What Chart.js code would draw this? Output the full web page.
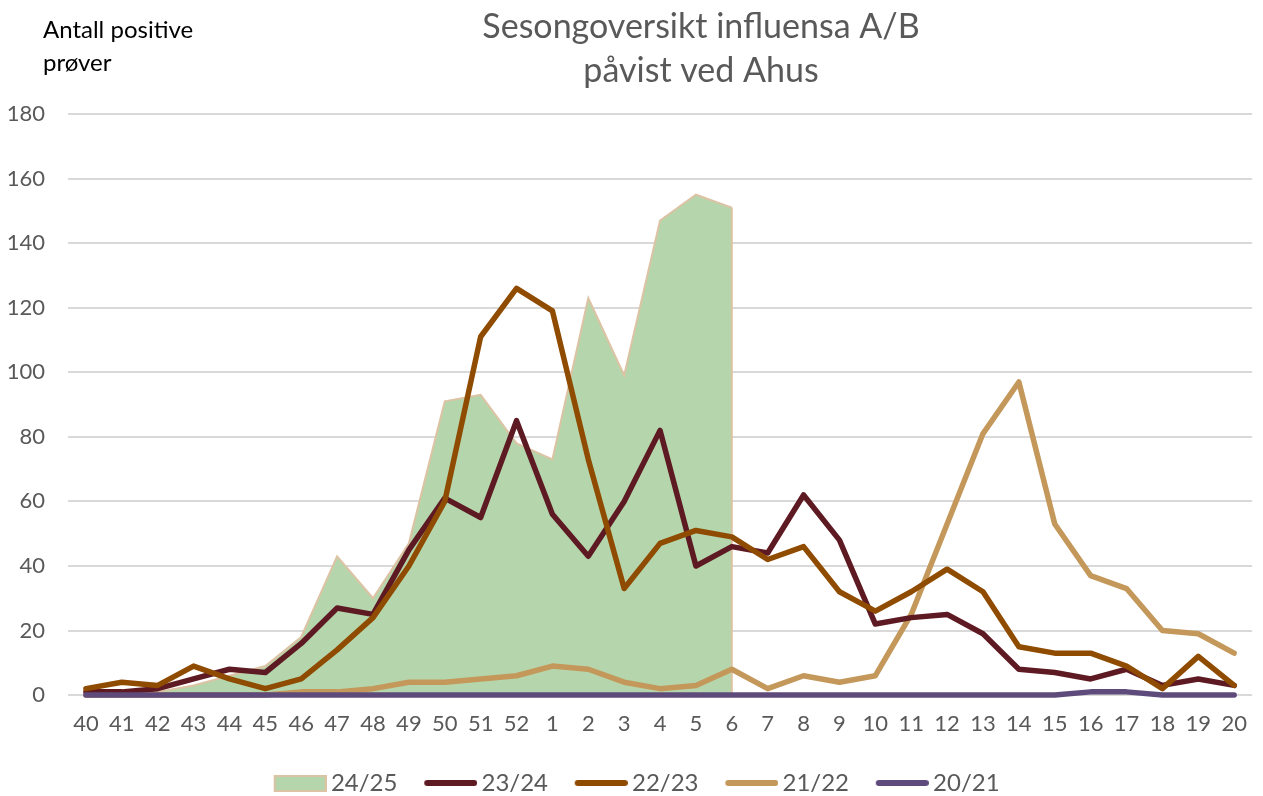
<!DOCTYPE html>
<html lang="no">
<head>
<meta charset="UTF-8">
<title>Sesongoversikt influensa A/B</title>
<script src="https://cdn.jsdelivr.net/npm/chart.js"></script>
<style>
    body { margin: 0; background: #fff; }
    .wrap { position: relative; width: 1263px; height: 796px; }
</style>
</head>
<body>
<div class="wrap"><canvas id="fluChart"></canvas></div>
<script>
    // uke 40 -> uke 20
    const weeks = ['40','41','42','43','44','45','46','47','48','49','50','51','52',
                   '1','2','3','4','5','6','7','8','9','10','11','12','13','14','15','16','17','18','19','20'];

    const s2425 = [0,0,1,3,6,9,18,43,30,47,91,93,78,73,123,99,147,155,151,
                   null,null,null,null,null,null,null,null,null,null,null,null,null,null];
    const s2324 = [1,1,2,5,8,7,16,27,25,45,61,55,85,56,43,60,82,40,46,44,62,48,22,24,25,19,8,7,5,8,3,5,3];
    const s2223 = [2,4,3,9,5,2,5,14,24,40,60,111,126,119,73,33,47,51,49,42,46,32,26,32,39,32,15,13,13,9,2,12,3];
    const s2122 = [0,0,0,0,0,0,1,1,2,4,4,5,6,9,8,4,2,3,8,2,6,4,6,25,53,81,97,53,37,33,20,19,13];
    const s2021 = [0,0,0,0,0,0,0,0,0,0,0,0,0,0,0,0,0,0,0,0,0,0,0,0,0,0,0,0,1,1,0,0,0];

    const seasonLabels = ['24/25','23/24','22/23','21/22','20/21'];
    const titleLines = ['Sesongoversikt influensa A/B', 'påvist ved Ahus'];
    const yTitleLines = ['Antall positive', 'prøver'];

    const FONT = 'Lato';
    const GREY = '#595959';

    // legend-symbol, venstre del gjennomsiktig så teksten kommer tett inntil
    function swatch(fill, stroke, isArea) {
        const c = document.createElement('canvas');
        c.width = 70; c.height = 18;
        const g = c.getContext('2d');
        if (isArea) {
            g.fillStyle = fill;
            g.fillRect(17, 1, 53, 17);
            g.strokeStyle = stroke;
            g.lineWidth = 2;
            g.strokeRect(18, 2, 51, 15);
        } else {
            g.strokeStyle = fill;
            g.lineWidth = 6;
            g.lineCap = 'round';
            g.beginPath();
            g.moveTo(20, 9);
            g.lineTo(67, 9);
            g.stroke();
        }
        return c;
    }

    // kant ned til null etter siste uke i arealet
    const areaEdge = {
        id: 'areaEdge',
        afterDatasetDraw(chart, args) {
            if (args.index !== 0) return;
            const data = chart.data.datasets[0].data;
            let last = -1;
            data.forEach((v, i) => { if (v !== null) last = i; });
            if (last < 0) return;
            const x = chart.scales.x.getPixelForValue(last);
            const ctx = chart.ctx;
            ctx.save();
            ctx.strokeStyle = chart.data.datasets[0].borderColor;
            ctx.lineWidth = 2;
            ctx.beginPath();
            ctx.moveTo(x, chart.scales.y.getPixelForValue(data[last]));
            ctx.lineTo(x, chart.scales.y.getPixelForValue(0));
            ctx.stroke();
            ctx.restore();
        }
    };

    const headerText = {
        id: 'headerText',
        afterLayout(chart) {
            // legenden står litt til høyre for midten i originalen
            chart.legend.left += 3;
            chart.legend.right += 3;
        },
        afterDraw(chart) {
            const ctx = chart.ctx;
            ctx.save();
            ctx.textBaseline = 'middle';
            ctx.textAlign = 'center';
            ctx.fillStyle = GREY;
            ctx.font = '34px ' + FONT;
            ctx.fillText(titleLines[0], 701, 27);
            ctx.fillText(titleLines[1], 701, 71);
            ctx.textAlign = 'left';
            ctx.fillStyle = '#000';
            ctx.font = '24px ' + FONT;
            ctx.fillText(yTitleLines[0], 43, 30);
            ctx.fillText(yTitleLines[1], 43, 63);
            ctx.restore();
        }
    };

    const lineSet = (label, data, color, order) => ({
        type: 'line',
        label: label,
        data: data,
        borderColor: color,
        backgroundColor: color,
        borderWidth: 5.5,
        pointRadius: 0,
        tension: 0,
        fill: false,
        clip: 8,
        order: order,
        borderJoinStyle: 'round',
        borderCapStyle: 'round'
    });

    const ctx = document.getElementById('fluChart').getContext('2d');
    const fluChart = new Chart(ctx, {
        type: 'line',
        data: {
            labels: weeks,
            datasets: [
                {
                    label: seasonLabels[0],
                    data: s2425,
                    backgroundColor: '#b5d6ac',
                    borderColor: '#dcc3a4',
                    borderWidth: 2,
                    pointRadius: 0,
                    tension: 0,
                    fill: 'origin',
                    order: 10
                },
                lineSet(seasonLabels[1], s2324, '#5e1a22', 3),
                lineSet(seasonLabels[2], s2223, '#8f4b00', 2),
                lineSet(seasonLabels[3], s2122, '#c4985a', 4),
                lineSet(seasonLabels[4], s2021, '#5f4b7b', 1)
            ]
        },
        options: {
            responsive: true,
            maintainAspectRatio: false,
            animation: false,
            layout: { padding: { top: 114, left: 0, right: 5, bottom: -9 } },
            scales: {
                x: {
                    offset: true,
                    grid: { display: false, drawTicks: false },
                    border: { display: false },
                    ticks: { color: GREY, font: { family: FONT, size: 22 }, padding: 16, maxRotation: 0, autoSkip: false }
                },
                y: {
                    min: 0,
                    max: 180,
                    afterFit(scale) { scale.width = 68; },
                    ticks: { stepSize: 20, color: GREY, font: { family: FONT, size: 22 }, padding: 23 },
                    grid: { color: '#d9d9d9', lineWidth: 2, drawTicks: false },
                    border: { display: false }
                }
            },
            plugins: {
                tooltip: { enabled: false },
                title: { display: false },
                legend: {
                    position: 'bottom',
                    labels: {
                        color: GREY,
                        font: { family: FONT, size: 24 },
                        usePointStyle: true,
                        pointStyleWidth: 54.5,
                        padding: 17.5,
                        generateLabels(chart) {
                            return chart.data.datasets.map((ds, i) => ({
                                text: ds.label,
                                datasetIndex: i,
                                fontColor: GREY,
                                hidden: false,
                                lineWidth: 0,
                                pointStyle: i === 0
                                    ? swatch(ds.backgroundColor, ds.borderColor, true)
                                    : swatch(ds.borderColor, null, false)
                            }));
                        }
                    }
                }
            }
        },
        plugins: [areaEdge, headerText]
    });
</script>
</body>
</html>
